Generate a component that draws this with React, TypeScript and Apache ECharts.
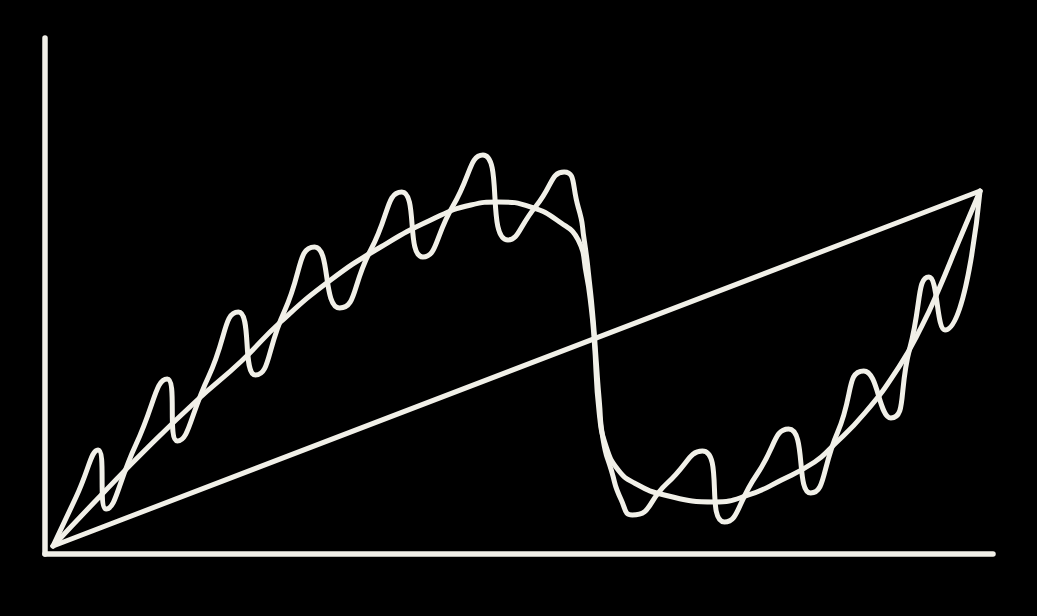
import React, { useEffect, useRef } from "react";
import * as echarts from "echarts";

// Values (x: 0..100 across the plot, y: 0..100 up to the line's end)
const lineX = [0, 100];
const lineY = [0, 100];

const smoothX = [0, 5.41, 10.49, 15.57, 20.22, 24.54, 29.95, 35.35, 40.76, 45.08, 48.0, 51.57, 54.81, 56.65, 57.51, 58.05, 58.38, 58.92, 59.68, 60.97, 62.7, 65.95, 71.35, 75.03, 78.59, 82.16, 84.0, 87.57, 91.24, 93.73, 95.57, 97.73, 100];
const smoothY = [0, 14.93, 28.45, 41.13, 51.83, 63.1, 74.93, 84.23, 91.83, 96.06, 96.9, 95.49, 90.99, 86.2, 76.9, 67.32, 58.03, 37.46, 27.89, 21.41, 17.75, 14.37, 12.39, 14.37, 18.59, 23.66, 27.89, 37.46, 50.42, 62.0, 72.4, 86.0, 100];

const wiggleX = [0, 2.49, 4.86, 5.73, 8.97, 12.32, 13.41, 16.76, 20.0, 21.84, 24.97, 28.22, 30.92, 34.27, 37.62, 39.89, 43.14, 46.38, 49.08, 52.11, 55.14, 56.65, 57.3, 57.84, 58.27, 58.59, 58.92, 59.35, 60.22, 61.3, 62.49, 66.27, 70.05, 72.43, 75.89, 79.35, 81.73, 84.65, 87.46, 90.38, 92.43, 94.49, 96.22, 100];
const wiggleY = [0, 13.8, 27.04, 10.42, 28.73, 47.04, 29.58, 47.61, 65.92, 48.17, 66.2, 84.23, 67.04, 83.38, 99.72, 81.41, 95.77, 110.14, 86.2, 95.77, 105.35, 95.49, 86.2, 74.93, 63.66, 52.39, 41.13, 29.86, 21.41, 12.96, 8.73, 17.75, 26.76, 6.76, 20.0, 32.96, 14.93, 32.11, 49.3, 36.06, 55.77, 75.77, 60.85, 100];

const INK = "#f1f0e8";

function zip(xs: number[], ys: number[]) {
  return xs.map((x, i) => [x, ys[i]]);
}

export default function App() {
  const ref = useRef<HTMLDivElement>(null);

  useEffect(() => {
    document.body.style.margin = "0";
    document.body.style.background = "#000";
    const chart = echarts.init(ref.current!, undefined, { renderer: "svg" });
    const lineStyle = { color: INK, width: 5, cap: "round", join: "round" };
    const axisCommon = {
      type: "value",
      axisLine: { show: true, onZero: false, lineStyle: { color: INK, width: 5.5, cap: "round" } },
      axisTick: { show: false },
      axisLabel: { show: false },
      splitLine: { show: false },
    };
    chart.setOption({
      animation: false,
      backgroundColor: "#000",
      grid: { left: 45, right: 44, top: 38, bottom: 62 },
      xAxis: { ...axisCommon, min: -0.865, max: 101.4 },
      yAxis: { ...axisCommon, min: -2.254, max: 143.1 },
      series: [
        {
          type: "line",
          data: zip(lineX, lineY),
          symbol: "none",
          lineStyle,
        },
        {
          type: "line",
          data: zip(smoothX, smoothY),
          smooth: 0.5,
          symbol: "none",
          lineStyle,
        },
        {
          type: "line",
          data: zip(wiggleX, wiggleY),
          smooth: 0.6,
          symbol: "none",
          lineStyle,
        },
      ],
    });
    return () => chart.dispose();
  }, []);

  return (
    <div
      ref={ref}
      style={{ position: "fixed", left: 0, top: 0, width: 1037, height: 616, background: "#000" }}
    />
  );
}
